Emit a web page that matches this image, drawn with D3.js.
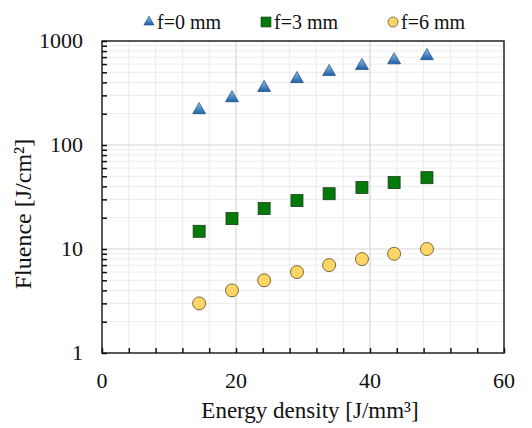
<!DOCTYPE html>
<html>
<head>
<meta charset="utf-8">
<script src="https://cdn.jsdelivr.net/npm/d3@7"></script>
<style>
  body { margin: 0; background: #fff; }
  text { font-family: "Liberation Serif", "Times New Roman", serif; fill: #111; }
</style>
</head>
<body>
<div id="chart"></div>
<script>
// Data
const energy = [14.5, 19.4, 24.2, 29.1, 33.9, 38.8, 43.6, 48.5];
const fluence0 = [217, 283, 355, 432, 505, 578, 655, 718];
const fluence3 = [14.8, 19.6, 24.5, 29.2, 34.0, 39.0, 43.5, 48.5];
const fluence6 = [3, 4, 5, 6, 7, 8, 9, 10];
const seriesNames = ["f=0 mm", "f=3 mm", "f=6 mm"];
const xTicks = [0, 20, 40, 60];
const yTicks = [1, 10, 100, 1000];

const W = 532, H = 428;
const margin = {top: 41, right: 28, bottom: 75, left: 102};
const width = W - margin.left - margin.right,
      height = H - margin.top - margin.bottom;

const x = d3.scaleLinear().domain([0, 60]).range([0, width]);
const y = d3.scaleLog().domain([1, 1000]).range([height, 0]);

const svg = d3.select("#chart").append("svg")
    .attr("width", W).attr("height", H);

const g = svg.append("g")
    .attr("transform", `translate(${margin.left},${margin.top})`);

// Grid
const xMinor = d3.range(4, 60, 4).filter(d => d % 20 !== 0);
const yMinor = [];
[1, 10, 100].forEach(dec => d3.range(2, 10).forEach(k => yMinor.push(dec * k)));

g.append("g").selectAll("line").data(xMinor).enter().append("line")
    .attr("x1", x).attr("x2", x).attr("y1", 0).attr("y2", height)
    .attr("stroke", "#ececec").attr("stroke-width", 1);
g.append("g").selectAll("line").data(yMinor).enter().append("line")
    .attr("y1", y).attr("y2", y).attr("x1", 0).attr("x2", width)
    .attr("stroke", "#ececec").attr("stroke-width", 1);
g.append("g").selectAll("line").data([20, 40]).enter().append("line")
    .attr("x1", x).attr("x2", x).attr("y1", 0).attr("y2", height)
    .attr("stroke", "#d6d6d6").attr("stroke-width", 1.2);
g.append("g").selectAll("line").data([10, 100]).enter().append("line")
    .attr("y1", y).attr("y2", y).attr("x1", 0).attr("x2", width)
    .attr("stroke", "#d6d6d6").attr("stroke-width", 1.2);

// Frame
g.append("rect")
    .attr("width", width).attr("height", height)
    .attr("fill", "none").attr("stroke", "#222").attr("stroke-width", 1.5);

// Inward ticks
const xAxis = g.append("g").attr("transform", `translate(0,${height})`)
    .call(d3.axisBottom(x).tickValues(d3.range(0, 61, 4)).tickSize(-5).tickFormat(""));
const yAxis = g.append("g")
    .call(d3.axisLeft(y).tickValues(yMinor.concat(yTicks)).tickSize(-5).tickFormat(""));
[xAxis, yAxis].forEach(a => {
  a.select(".domain").remove();
  a.selectAll(".tick line").attr("stroke", "#111").attr("stroke-width", 1.5);
});

// Tick labels
g.selectAll(".xlab").data(xTicks).enter().append("text")
    .attr("x", x).attr("y", height + 35)
    .attr("text-anchor", "middle").style("font-size", "22px")
    .text(d => d);
g.selectAll(".ylab").data(yTicks).enter().append("text")
    .attr("x", -19).attr("y", d => y(d) + 7)
    .attr("text-anchor", "end").style("font-size", "22px")
    .text(d => d);

// Axis titles
svg.append("text")
    .attr("x", 310).attr("y", 418)
    .attr("text-anchor", "middle").style("font-size", "23px")
    .text("Energy density [J/mm³]");
svg.append("text")
    .attr("transform", "translate(31,214) rotate(-90)")
    .attr("text-anchor", "middle").style("font-size", "24px")
    .text("Fluence [J/cm²]");

// Markers
const triGrad = svg.append("defs").append("linearGradient")
    .attr("id", "tri").attr("x1", 0).attr("y1", 0).attr("x2", 0).attr("y2", 1);
triGrad.append("stop").attr("offset", "0%").attr("stop-color", "#8fc3ec");
triGrad.append("stop").attr("offset", "100%").attr("stop-color", "#1a5fa8");

const tri = d3.symbol().type(d3.symbolTriangle).size(72);

g.selectAll(".s0").data(energy).enter().append("path")
    .attr("d", tri)
    .attr("transform", (d, i) => `translate(${x(d)},${y(fluence0[i])})`)
    .attr("fill", "url(#tri)").attr("stroke", "#1f4e79").attr("stroke-width", 0.7);

g.selectAll(".s1").data(energy).enter().append("rect")
    .attr("x", d => x(d) - 6).attr("y", (d, i) => y(fluence3[i]) - 6)
    .attr("width", 12).attr("height", 12)
    .attr("fill", "#047a0a").attr("stroke", "#1a3d1a").attr("stroke-width", 0.8);

g.selectAll(".s2").data(energy).enter().append("circle")
    .attr("cx", x).attr("cy", (d, i) => y(fluence6[i])).attr("r", 6.5)
    .attr("fill", "#fdd667").attr("stroke", "#6b5a2a").attr("stroke-width", 0.9);

// Legend
const legend = svg.append("g").attr("transform", "translate(0,21)");
const legX = [149, 266, 393];
legend.append("path").attr("d", d3.symbol().type(d3.symbolTriangle).size(45))
    .attr("transform", `translate(${legX[0]},1)`)
    .attr("fill", "url(#tri)").attr("stroke", "#1f4e79").attr("stroke-width", 0.6);
legend.append("rect").attr("x", legX[1] - 5).attr("y", -4).attr("width", 10).attr("height", 10)
    .attr("fill", "#047a0a").attr("stroke", "#1a3d1a").attr("stroke-width", 0.6);
legend.append("circle").attr("cx", legX[2]).attr("cy", 1).attr("r", 5)
    .attr("fill", "#fdd667").attr("stroke", "#6b5a2a").attr("stroke-width", 0.8);
legend.selectAll(".lt").data(seriesNames).enter().append("text")
    .attr("x", (d, i) => legX[i] + 8).attr("y", 8)
    .style("font-size", "20px")
    .text(d => d);
</script>
</body>
</html>
